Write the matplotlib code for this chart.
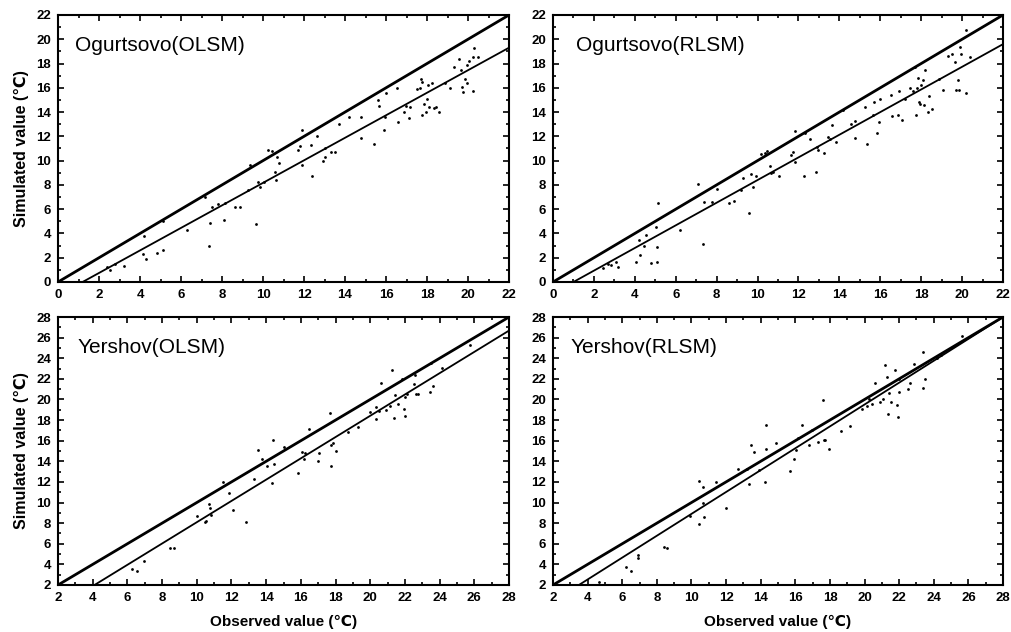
import numpy as np
import matplotlib
matplotlib.use('Agg')
import matplotlib.pyplot as plt
from matplotlib.ticker import MultipleLocator

plt.rcParams['font.family'] = ['Liberation Sans', 'DejaVu Sans']

# Ogurtsovo, OLSM
ogu_olsm_obs = [2.4, 2.55, 2.78, 3.2, 4.2, 4.15, 4.27, 4.84, 5.13, 5.13, 6.28, 7.16, 7.37, 7.4, 7.5,
                7.8, 8.08, 8.13, 8.64, 8.9, 9.27, 9.35, 9.64, 9.74, 9.84, 10.03, 10.26, 10.45, 10.57,
                10.65, 10.7, 10.8, 11.7, 11.8, 11.9, 11.92, 12.34, 12.37, 12.65, 12.92, 13.0, 13.03,
                13.3, 13.5, 13.7, 14.19, 14.8, 14.8, 15.4, 15.63, 15.68, 15.88, 15.96, 16.0, 16.54,
                16.6, 16.9, 16.95, 17.1, 17.17, 17.5, 17.66, 17.7, 17.76, 17.76, 17.87, 17.94, 17.99,
                18.07, 18.1, 18.23, 18.36, 18.44, 18.57, 18.9, 19.1, 19.3, 19.55, 19.66, 19.7, 19.74,
                19.87, 19.94, 19.95, 20.03, 20.23, 20.23, 20.3, 20.5]
ogu_olsm_sim = [1.2, 1.0, 1.5, 1.3, 3.8, 2.3, 1.9, 2.4, 2.6, 5.0, 4.3, 7.0, 3.0, 4.9, 6.2,
                6.4, 5.1, 6.5, 6.2, 6.2, 7.6, 9.6, 4.8, 8.25, 7.8, 8.25, 10.9, 10.8, 9.1,
                8.4, 10.3, 9.8, 10.9, 11.2, 12.5, 9.6, 11.3, 8.75, 12.0, 10.0, 11.05, 10.3,
                10.7, 10.7, 13.05, 13.6, 13.6, 11.9, 11.35, 15.0, 14.5, 12.5, 13.6, 15.6, 15.95,
                13.2, 14.0, 14.5, 13.5, 14.4, 15.9, 16.0, 16.7, 16.5, 13.8, 14.7, 14.0, 15.1,
                16.2, 14.4, 16.4, 14.3, 14.4, 14.0, 16.4, 15.95, 17.7, 18.4, 17.5, 16.1, 15.65,
                16.7, 17.9, 16.4, 18.2, 15.7, 18.5, 19.3, 18.5]

# Ogurtsovo, RLSM
ogu_rlsm_obs = [2.44, 2.69, 2.82, 3.1, 3.18, 4.07, 4.19, 4.24, 4.45, 4.56, 4.77, 5.05, 5.08, 5.1, 5.13,
                6.23, 7.09, 7.32, 7.37, 7.77, 8.0, 8.59, 8.83, 9.2, 9.29, 9.58, 9.7, 9.78, 9.94,
                10.19, 10.35, 10.46, 10.62, 10.67, 10.77, 11.05, 11.62, 11.73, 11.81, 11.85, 12.27,
                12.34, 12.55, 12.84, 12.92, 12.96, 13.25, 13.45, 13.53, 13.64, 13.82, 14.18, 14.59,
                14.75, 14.75, 15.24, 15.35, 15.64, 15.68, 15.86, 15.92, 16.0, 16.54, 16.59, 16.87,
                16.92, 17.08, 17.19, 17.47, 17.6, 17.68, 17.73, 17.8, 17.85, 17.9, 17.93, 18.0,
                18.09, 18.12, 18.17, 18.33, 18.4, 18.55, 18.87, 19.07, 19.31, 19.52, 19.64, 19.69,
                19.8, 19.85, 19.88, 19.93, 20.18, 20.21, 20.4]
ogu_rlsm_sim = [1.15, 1.5, 1.4, 1.65, 1.25, 1.65, 3.5, 2.2, 3.0, 3.9, 1.6, 4.5, 2.9, 1.65, 6.5,
                4.25, 8.1, 3.1, 6.6, 6.6, 7.7, 6.5, 6.65, 7.55, 8.6, 5.7, 8.9, 7.8, 8.7,
                10.55, 10.65, 10.8, 9.55, 9.0, 9.1, 8.75, 10.5, 10.7, 9.9, 12.4, 8.7,
                12.25, 11.8, 9.1, 11.1, 10.85, 10.65, 11.95, 11.75, 12.9, 11.55, 14.15, 13.05,
                13.3, 11.9, 14.45, 11.4, 13.8, 14.85, 12.25, 13.2, 15.05, 15.4, 13.65, 13.75,
                15.75, 13.35, 15.05, 15.95, 15.75, 17.75, 13.75, 16.0, 16.8, 14.85, 14.65, 16.2,
                16.65, 14.6, 17.5, 14.0, 15.35, 14.25, 16.7, 15.8, 18.65, 18.75, 18.15, 15.85,
                16.65, 15.85, 19.4, 18.8, 15.55, 20.75, 18.55]

# Yershov, OLSM
yer_olsm_obs = [6.28, 6.53, 6.95, 8.45, 8.68, 10.03, 10.5, 10.53, 10.7, 10.76, 10.8, 11.49, 11.85,
                12.1, 12.81, 13.31, 13.54, 13.73, 14.02, 14.35, 14.4, 14.44, 15.02, 15.84, 16.09,
                16.17, 16.23, 16.48, 17.0, 17.05, 17.67, 17.73, 17.76, 17.86, 18.01, 18.72, 19.3,
                19.97, 20.32, 20.32, 20.51, 20.64, 20.93, 21.12, 21.26, 21.37, 21.41, 21.57, 21.85,
                21.95, 21.99, 22.03, 22.12, 22.53, 22.6, 22.62, 22.76, 23.47, 23.52, 23.62, 24.14,
                25.73]
yer_olsm_sim = [3.55, 3.4, 4.35, 5.55, 5.55, 8.7, 8.07, 8.2, 9.85, 9.5, 8.8, 12.0, 10.95,
                9.25, 8.07, 12.27, 15.05, 14.2, 13.55, 11.9, 16.05, 13.75, 15.35, 12.9, 14.9,
                14.2, 14.8, 17.1, 14.05, 14.8, 18.73, 13.55, 15.55, 15.73, 15.0, 16.85, 17.3,
                18.8, 18.15, 19.3, 18.9, 21.55, 18.95, 19.4, 22.9, 18.2, 20.4, 19.6, 22.0,
                19.1, 18.4, 20.25, 20.57, 21.5, 22.35, 20.57, 20.57, 20.73, 23.5, 21.3, 23.06,
                25.3]

# Yershov, RLSM
yer_rlsm_obs = [4.65, 6.23, 6.48, 6.9, 6.9, 8.4, 8.6, 9.92, 10.46, 10.46, 10.69, 10.65, 10.71,
                11.42, 12.0, 12.71, 13.19, 13.31, 13.44, 13.63, 13.92, 14.25, 14.31, 14.31, 14.88,
                15.71, 15.94, 16.04, 16.17, 16.38, 16.81, 16.94, 17.33, 17.58, 17.63, 17.71, 17.96,
                18.63, 19.17, 19.88, 20.17, 20.27, 20.42, 20.6, 20.9, 21.08, 21.17, 21.27, 21.33,
                21.42, 21.52, 21.77, 21.9, 21.94, 22.0, 22.0, 22.52, 22.63, 22.87, 23.4, 23.4,
                23.5, 24.17, 24.4, 25.62]
yer_rlsm_sim = [2.26, 3.7, 3.4, 4.9, 4.6, 5.7, 5.6, 8.7, 12.08, 7.9, 11.5, 10.0, 8.6,
                12.0, 9.5, 13.24, 13.3, 11.8, 15.63, 14.9, 13.2, 11.95, 17.5, 15.24, 15.8,
                13.08, 14.2, 15.1, 16.28, 17.5, 15.57, 17.0, 15.9, 19.9, 16.1, 16.05, 15.18,
                16.9, 17.45, 19.05, 19.35, 20.0, 19.6, 21.64, 19.76, 20.0, 23.3, 22.2, 18.63,
                20.66, 19.76, 22.9, 19.5, 18.3, 20.73, 22.0, 21.05, 21.64, 23.48, 21.15, 24.6,
                21.96, 24.03, 24.35, 26.13]

titles = ['Ogurtsovo(OLSM)', 'Ogurtsovo(RLSM)', 'Yershov(OLSM)', 'Yershov(RLSM)']
obs_sets = [ogu_olsm_obs, ogu_rlsm_obs, yer_olsm_obs, yer_rlsm_obs]
sim_sets = [ogu_olsm_sim, ogu_rlsm_sim, yer_olsm_sim, yer_rlsm_sim]
# fitted lines (slope, intercept)
fit_slope = [0.928, 0.933, 1.033, 1.061]
fit_icpt = [-1.11, -0.93, -2.24, -1.71]
limits = [(0, 22), (0, 22), (2, 28), (2, 28)]

fig = plt.figure(figsize=(10.11, 6.32), dpi=100)
# axes boxes in figure fraction
boxes = [[0.0574, 0.5538, 0.4461, 0.4225],
         [0.5470, 0.5538, 0.4451, 0.4225],
         [0.0574, 0.0744, 0.4461, 0.4240],
         [0.5470, 0.0744, 0.4451, 0.4240]]
title_x = [0.038, 0.05, 0.044, 0.038]

for i in range(4):
    ax = fig.add_axes(boxes[i])
    lo, hi = limits[i]
    ax.scatter(obs_sets[i], sim_sets[i], s=4, color='k', marker='o', linewidths=0, zorder=3)
    ax.axline((lo, lo), slope=1, color='k', lw=2.0)
    ax.axline((0, fit_icpt[i]), slope=fit_slope[i], color='k', lw=1.3)
    ax.set_xlim(lo, hi)
    ax.set_ylim(lo, hi)
    ax.xaxis.set_major_locator(MultipleLocator(2))
    ax.yaxis.set_major_locator(MultipleLocator(2))
    ax.xaxis.set_minor_locator(MultipleLocator(1))
    ax.yaxis.set_minor_locator(MultipleLocator(1))
    ax.tick_params(which='both', direction='in', top=True, right=True, width=1.2)
    ax.tick_params(which='major', length=4.5, labelsize=9.5, pad=5)
    ax.tick_params(which='minor', length=2.5)
    for lab in ax.get_xticklabels() + ax.get_yticklabels():
        lab.set_fontweight('bold')
    for sp in ax.spines.values():
        sp.set_linewidth(1.5)
    ax.text(title_x[i], 0.886, titles[i], transform=ax.transAxes, fontsize=15,
            ha='left', va='center')
    if i % 2 == 0:
        ax.set_ylabel('Simulated value (\u2103)', fontsize=11.5, fontweight='bold', labelpad=5)
    if i >= 2:
        ax.set_xlabel('Observed value (\u2103)', fontsize=11, fontweight='bold', labelpad=8)

plt.savefig('out.png', dpi=100)
